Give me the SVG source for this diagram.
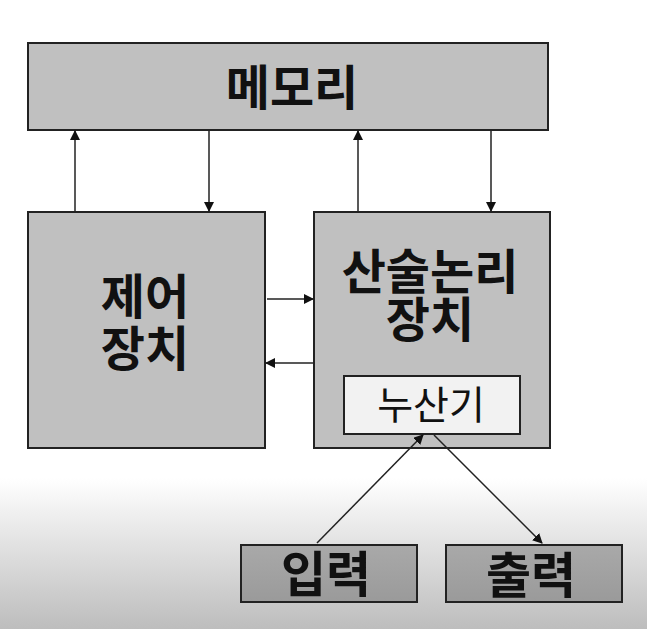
<svg xmlns="http://www.w3.org/2000/svg" width="647" height="629" viewBox="0 0 647 629">
<defs>
<linearGradient id="bg" x1="0" y1="0" x2="0" y2="1">
<stop offset="0" stop-color="#ffffff"/>
<stop offset="0.76" stop-color="#ffffff"/>
<stop offset="1" stop-color="#bdbdbd"/>
</linearGradient>
<linearGradient id="io" x1="0" y1="0" x2="0" y2="1">
<stop offset="0" stop-color="#a9a9a9"/>
<stop offset="1" stop-color="#9a9a9a"/>
</linearGradient>
<marker id="ah" markerWidth="10" markerHeight="10" refX="9" refY="5" orient="auto" markerUnits="userSpaceOnUse">
<path d="M0,0 L10,5 L0,10 Z" fill="#111"/>
</marker>
<style>
.box{fill:#c0c0c0;stroke:#222;stroke-width:2}
.io{fill:url(#io);stroke:#222;stroke-width:2}
.acc{fill:#f2f2f2;stroke:#222;stroke-width:2}
.t{font-family:"Noto Sans CJK KR","Noto Sans",sans-serif;font-weight:bold;font-size:48px;fill:#111;text-anchor:middle}
.n{font-family:"Noto Sans CJK KR","Noto Sans",sans-serif;font-weight:normal;font-size:39px;fill:#111;text-anchor:middle}
.c{stroke:#222;stroke-width:1.5;fill:none;marker-end:url(#ah)}
</style>
</defs>
<rect width="647" height="629" fill="url(#bg)"/>
<g id="memory">
<rect class="box" x="28" y="43" width="520" height="87"/>
<text class="t" x="292" y="105">메모리</text>
</g>
<g id="control">
<rect class="box" x="28" y="212" width="237" height="236"/>
<text class="t" x="145" y="314">제어</text>
<text class="t" x="145" y="366">장치</text>
</g>
<g id="alu">
<rect class="box" x="314" y="212" width="236" height="236"/>
<text class="t" x="430" y="289">산술논리</text>
<text class="t" x="430" y="337">장치</text>
</g>
<g id="accumulator">
<rect class="acc" x="344" y="376" width="176" height="58"/>
<text class="n" x="431" y="419">누산기</text>
</g>
<g id="input">
<rect class="io" x="241" y="545" width="176" height="57"/>
<text class="t" x="326" y="592" style="font-size:49px">입력</text>
</g>
<g id="output">
<rect class="io" x="446" y="545" width="176" height="57"/>
<text class="t" x="531" y="593" style="font-size:49px">출력</text>
</g>
<g id="connectors">
<line class="c" x1="75" y1="211" x2="75" y2="131"/>
<line class="c" x1="209" y1="131" x2="209" y2="211"/>
<line class="c" x1="358" y1="211" x2="358" y2="131"/>
<line class="c" x1="491" y1="131" x2="491" y2="211"/>
<line class="c" x1="267" y1="299" x2="313" y2="299"/>
<line class="c" x1="313" y1="363" x2="266" y2="363"/>
<line class="c" x1="317" y1="543" x2="423" y2="435"/>
<line class="c" x1="434" y1="435" x2="542" y2="543"/>
</g>
</svg>
